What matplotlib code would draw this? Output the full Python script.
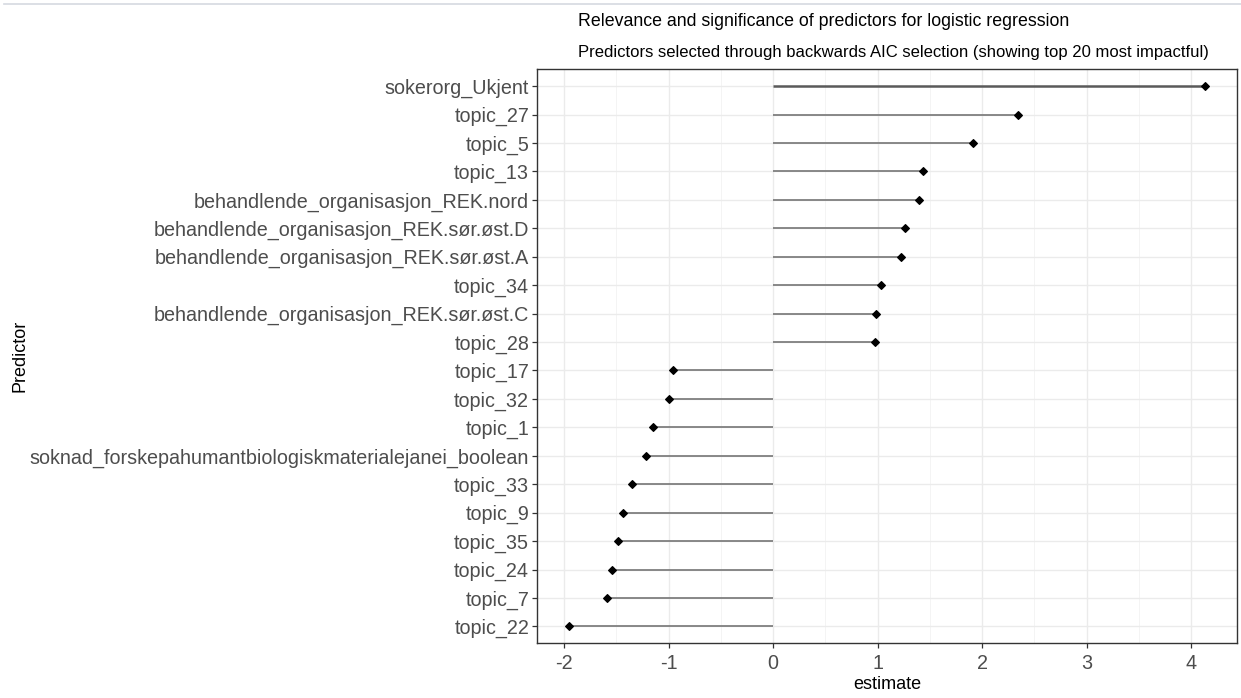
import matplotlib
matplotlib.use("Agg")
import matplotlib.pyplot as plt
from matplotlib.lines import Line2D
from matplotlib.ticker import MultipleLocator

plt.rcParams['font.family'] = ['Liberation Sans', 'DejaVu Sans']

# Koeffisienter fra logistisk regresjon (topp 20 etter absoluttverdi)
predictors = [
    'sokerorg_Ukjent', 'topic_27', 'topic_5', 'topic_13',
    'behandlende_organisasjon_REK.nord',
    'behandlende_organisasjon_REK.sør.øst.D',
    'behandlende_organisasjon_REK.sør.øst.A',
    'topic_34',
    'behandlende_organisasjon_REK.sør.øst.C',
    'topic_28', 'topic_17', 'topic_32', 'topic_1',
    'soknad_forskepahumantbiologiskmaterialejanei_boolean',
    'topic_33', 'topic_9', 'topic_35', 'topic_24', 'topic_7', 'topic_22',
]
estimates = [4.13, 2.34, 1.91, 1.43, 1.40, 1.26, 1.22, 1.03, 0.98, 0.97,
             -0.96, -0.995, -1.15, -1.215, -1.35, -1.435, -1.48, -1.54, -1.59, -1.95]

x_ticks = [-2, -1, 0, 1, 2, 3, 4]

W, H = 1241, 698
fig = plt.figure(figsize=(W / 100, H / 100), dpi=100)
ax = fig.add_axes([0.4331, 0.0781, 0.5634, 0.8230])

n = len(predictors)
ypos = list(range(n - 1, -1, -1))

for i, (y, est) in enumerate(zip(ypos, estimates)):
    lw = 1.8 if i == 0 else 1.3
    col = '#5a5a5a' if i == 0 else '#7f7f7f'
    ax.plot([0, est], [y, y], color=col, lw=lw, solid_capstyle='butt', zorder=2)
ax.scatter(estimates, ypos, marker='D', s=15, color='black', zorder=3)

# akser og rutenett i ggplot theme_bw-stil
lo, hi = min(estimates), max(estimates)
pad = 0.05 * (hi - lo)
ax.set_xlim(lo - pad, hi + pad)
ax.set_ylim(-0.6, n - 1 + 0.6)
ax.set_xticks(x_ticks)
ax.set_xticklabels([str(t) for t in x_ticks])
ax.xaxis.set_minor_locator(MultipleLocator(0.5))
ax.set_yticks(ypos)
ax.set_yticklabels(predictors)

ax.grid(which='major', color='#ebebeb', lw=1.0, zorder=0)
ax.grid(which='minor', axis='x', color='#f3f3f3', lw=0.6, zorder=0)
ax.set_axisbelow(True)
for sp in ax.spines.values():
    sp.set_color('#333333')
    sp.set_linewidth(1.0)

ax.tick_params(axis='both', which='major', length=3.5, width=0.9, color='#333333',
               labelcolor='#4d4d4d', labelsize=14.2, pad=2.5)
ax.tick_params(axis='x', which='major', pad=4)
ax.tick_params(axis='both', which='minor', length=0)

ax.set_xlabel('estimate', fontsize=13, color='black', labelpad=2)
fig.text(20 / W, 1 - 356 / H, 'Predictor', rotation=90, fontsize=13,
         color='black', ha='center', va='center')

fig.text(578 / W, 1 - 22 / H, 'Relevance and significance of predictors for logistic regression',
         fontsize=12.8, color='black', ha='left', va='center')
fig.text(578 / W, 1 - 52 / H,
         'Predictors selected through backwards AIC selection (showing top 20 most impactful)',
         fontsize=12, color='black', ha='left', va='center')

fig.add_artist(Line2D([4 / W, 1], [1 - 4 / H, 1 - 4 / H],
                      transform=fig.transFigure, color='#d5d9e0', lw=1.2))

fig.savefig('out.png', dpi=100)
